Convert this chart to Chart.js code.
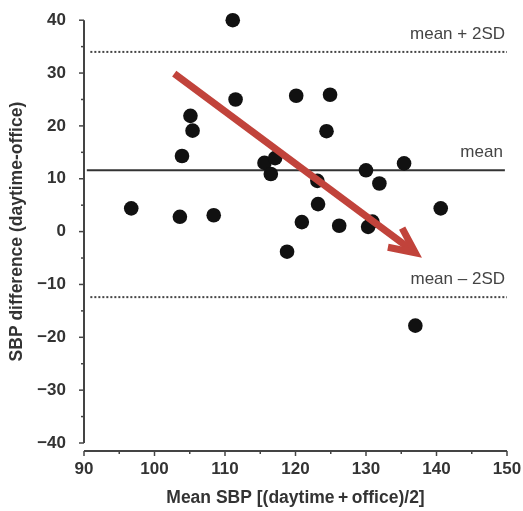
<!DOCTYPE html>
<html>
<head>
<meta charset="utf-8">
<script src="https://cdn.jsdelivr.net/npm/chart.js@4.4.0/dist/chart.umd.min.js"></script>
<style>
  html, body { margin: 0; padding: 0; background: #fff; }
  #wrap { width: 523px; height: 511px; }
</style>
</head>
<body>
<div id="wrap"><canvas id="myChart" width="523" height="511"></canvas></div>
<script>
// mean of the two readings (x) and their difference (y)
const meanSBP = [96.7, 103.6, 108.4, 103.9, 105.1, 105.4, 111.1, 111.5, 120.1, 124.9,
                 124.4, 115.6, 117.1, 116.5, 123.1, 123.2, 120.9, 126.2, 130.3, 130.9,
                 118.8, 130.0, 131.9, 135.4, 140.6, 137.0];
const diffSBP = [4.4, 2.8, 3.1, 14.3, 21.9, 19.1, 40.0, 25.0, 25.7, 25.9,
                 19.0, 13.0, 13.9, 10.9, 9.6, 5.2, 1.8, 1.1, 0.9, 1.9,
                 -3.8, 11.6, 9.1, 12.9, 4.4, -17.8];

// reference lines
const refNames = ["mean + 2SD", "mean", "mean \u2013 2SD"];
const refValues = [34.0, 11.6, -12.4];
const refDotted = [true, false, true];
const refFrom = [90.9, 90.4, 90.9];
const refTo = [150, 149.7, 150];

// red trend arrow (start -> tip)
const arrowX = [102.8, 137.0];
const arrowY = [29.9, -4.0];

// axes
const xMin = 90, xMax = 150, xStep = 10;
const yMin = -40, yMax = 40, yStep = 10;

const fontFam = '"Liberation Sans", Arial, Helvetica, sans-serif';

let points = meanSBP.map((m, i) => ({ x: m, y: diffSBP[i] }));

let refSets = refValues.map((v, i) => ({
  type: 'line',
  data: [{ x: refFrom[i], y: v }, { x: refTo[i], y: v }],
  borderColor: refDotted[i] ? '#444' : '#333',
  borderWidth: 2,
  borderDash: refDotted[i] ? [2, 2] : [],
  pointRadius: 0,
  clip: false,
  order: 2
}));

// axis lines, ticks, line labels and the arrow
const extras = {
  id: 'extras',
  afterDatasetsDraw(chart) {
    const ctx = chart.ctx;
    const xs = chart.scales.x, ys = chart.scales.y;
    const left = xs.getPixelForValue(xMin);
    const bottom = ys.getPixelForValue(yMin);
    const xAxisY = bottom + 8;

    ctx.save();
    ctx.strokeStyle = '#444';
    ctx.lineWidth = 2;
    // y axis
    ctx.beginPath();
    ctx.moveTo(left, ys.getPixelForValue(yMax));
    ctx.lineTo(left, bottom);
    ctx.stroke();
    ctx.lineWidth = 1.5;
    for (let v = yMin; v <= yMax; v += yStep / 2) {
      const py = ys.getPixelForValue(v);
      const len = (v % yStep === 0) ? 5 : 3;
      ctx.beginPath();
      ctx.moveTo(left - len, py);
      ctx.lineTo(left, py);
      ctx.stroke();
    }
    // x axis
    ctx.lineWidth = 2;
    ctx.beginPath();
    ctx.moveTo(left, xAxisY);
    ctx.lineTo(xs.getPixelForValue(xMax), xAxisY);
    ctx.stroke();
    ctx.lineWidth = 1.5;
    for (let v = xMin; v <= xMax; v += xStep / 2) {
      const px = xs.getPixelForValue(v);
      const len = (v % xStep === 0) ? 5 : 3;
      ctx.beginPath();
      ctx.moveTo(px, xAxisY);
      ctx.lineTo(px, xAxisY + len);
      ctx.stroke();
    }

    // reference line labels
    ctx.fillStyle = '#444';
    ctx.font = '17px ' + fontFam;
    ctx.textAlign = 'right';
    ctx.textBaseline = 'middle';
    refNames.forEach((name, i) => {
      ctx.fillText(name, xs.getPixelForValue(refTo[i]) - 2, ys.getPixelForValue(refValues[i]) - 18);
    });

    // arrow
    const x0 = xs.getPixelForValue(arrowX[0]), y0 = ys.getPixelForValue(arrowY[0]);
    const x1 = xs.getPixelForValue(arrowX[1]), y1 = ys.getPixelForValue(arrowY[1]);
    const ang = Math.atan2(y1 - y0, x1 - x0);
    const head = 28, spread = 0.44;
    ctx.strokeStyle = '#c1433b';
    ctx.lineWidth = 7;
    ctx.lineCap = 'butt';
    ctx.lineJoin = 'miter';
    ctx.beginPath();
    ctx.moveTo(x0, y0);
    ctx.lineTo(x1 - 4 * Math.cos(ang), y1 - 4 * Math.sin(ang));
    ctx.stroke();
    ctx.beginPath();
    ctx.moveTo(x1 - head * Math.cos(ang - spread), y1 - head * Math.sin(ang - spread));
    ctx.lineTo(x1, y1);
    ctx.lineTo(x1 - head * Math.cos(ang + spread), y1 - head * Math.sin(ang + spread));
    ctx.stroke();
    ctx.restore();
  }
};

const chartCtx = document.getElementById('myChart').getContext('2d');
const myChart = new Chart(chartCtx, {
  type: 'scatter',
  data: {
    datasets: [
      {
        label: 'SBP',
        data: points,
        backgroundColor: '#111',
        borderColor: '#111',
        borderWidth: 0,
        pointRadius: 7.3,
        pointHoverRadius: 7.3,
        clip: false,
        order: 1
      },
      ...refSets
    ]
  },
  options: {
    responsive: false,
    animation: false,
    events: [],
    layout: { padding: { top: 13, right: 16, left: 0, bottom: 0 } },
    plugins: { legend: { display: false }, tooltip: { enabled: false } },
    scales: {
      x: {
        type: 'linear',
        min: xMin, max: xMax,
        grid: { display: false },
        border: { display: false },
        ticks: {
          stepSize: xStep,
          padding: 8,
          color: '#333',
          font: { family: fontFam, size: 17, weight: 'bold' }
        },
        title: {
          display: true,
          text: 'Mean SBP [(daytime\u2009+\u2009office)/2]',
          color: '#333',
          padding: { top: 0, bottom: 2 },
          font: { family: fontFam, size: 17.5, weight: 'bold' }
        },
        afterFit(scale) {
          scale.height = 68;
          scale.paddingLeft = 0;
          scale.paddingRight = 0;
        }
      },
      y: {
        type: 'linear',
        min: yMin, max: yMax,
        grid: { display: false },
        border: { display: false },
        ticks: {
          stepSize: yStep,
          padding: 10,
          color: '#333',
          font: { family: fontFam, size: 17, weight: 'bold' },
          callback: v => (v < 0 ? '\u2212' + Math.abs(v) : v)
        },
        title: {
          display: true,
          text: 'SBP difference (daytime-office)',
          color: '#333',
          padding: { top: 7, bottom: 0 },
          font: { family: fontFam, size: 17.5, weight: 'bold' }
        },
        afterFit(scale) { scale.width = 84; }
      }
    }
  },
  plugins: [extras]
});
</script>
</body>
</html>
